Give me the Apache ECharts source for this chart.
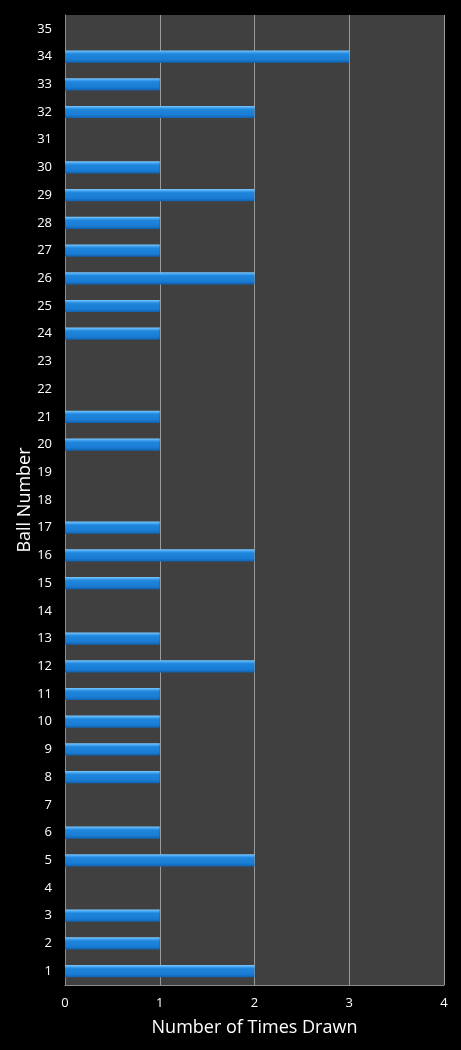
<!DOCTYPE html>
<html><head><meta charset="utf-8">
<script src="https://cdn.jsdelivr.net/npm/echarts@6/dist/echarts.min.js"></script>
<style>html,body{margin:0;padding:0;background:#000;}#c{width:461px;height:1050px;}</style>
</head><body><div id="c"></div>
<script>
const categories = ["1","2","3","4","5","6","7","8","9","10","11","12","13","14","15","16","17","18","19","20","21","22","23","24","25","26","27","28","29","30","31","32","33","34","35"];
const timesDrawn = [2,1,1,0,2,1,0,1,1,1,1,2,1,0,1,2,1,0,0,1,1,0,0,1,1,2,1,1,2,1,0,2,1,3,0];
const xTicks = [0,1,2,3,4];

const chart = echarts.init(document.getElementById('c'), null, {renderer:'canvas'});
const font = '"Open Sans", "DejaVu Sans", sans-serif';
chart.setOption({
  backgroundColor: '#000',
  animation: false,
  grid: {left:65, right:17, top:15, bottom:65, show:true, backgroundColor:'#404040', borderWidth:0},
  xAxis: {
    type:'value', min:xTicks[0], max:xTicks[xTicks.length-1], interval:1,
    name:'Number of Times Drawn', nameLocation:'middle', nameGap:34,
    nameTextStyle:{color:'#fff', fontSize:18, fontFamily:font},
    axisLine:{show:true, lineStyle:{color:'#8c8c8c', width:1}},
    axisTick:{show:false},
    axisLabel:{color:'#fff', fontSize:13, fontFamily:font, margin:12},
    splitLine:{show:true, lineStyle:{color:'#9a9a9a', width:1}}
  },
  yAxis: {
    type:'category', data:categories,
    name:'Ball Number', nameLocation:'middle', nameGap:31, nameRotate:90,
    nameMoveOverlap:false,
    nameTextStyle:{color:'#fff', fontSize:18, fontFamily:font},
    axisLine:{show:true, lineStyle:{color:'#8c8c8c', width:1}},
    axisTick:{show:false},
    axisLabel:{color:'#fff', fontSize:13, fontFamily:font, margin:13},
    splitLine:{show:false}
  },
  series: [{
    type:'bar', data:timesDrawn, barWidth:'44%',
    itemStyle:{
      color: new echarts.graphic.LinearGradient(0,0,0,1,[
        {offset:0, color:'#7ccaff'},
        {offset:0.18, color:'#3a9cec'},
        {offset:0.3, color:'#1f86dc'},
        {offset:0.75, color:'#1a7cd4'},
        {offset:1, color:'#1262ae'}
      ]),
      borderWidth:0
    }
  }]
});
</script></body></html>
